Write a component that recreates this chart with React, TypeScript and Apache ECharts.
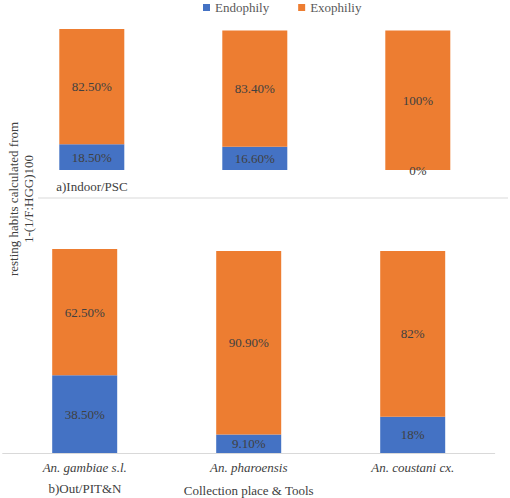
import React, { useEffect, useRef } from "react";
import * as echarts from "echarts";

const categories = ["An. gambiae s.l.", "An. pharoensis", "An. coustani cx."];
const seriesNames = ["Endophily", "Exophiliy"];
const indoorEndo = [18.5, 16.6, 0];
const indoorExo = [82.5, 83.4, 100];
const indoorEndoLabels = ["18.50%", "16.60%", "0%"];
const indoorExoLabels = ["82.50%", "83.40%", "100%"];
const outEndo = [38.5, 9.1, 18];
const outExo = [62.5, 90.9, 82];
const outEndoLabels = ["38.50%", "9.10%", "18%"];
const outExoLabels = ["62.50%", "90.90%", "82%"];

const FONT = "Times New Roman, Liberation Serif, serif";
const BLUE = "#4472C4";
const ORANGE = "#ED7D31";
const TXT = "#404040";

export default function App() {
  const ref = useRef<HTMLDivElement>(null);
  useEffect(() => {
    if (!ref.current) return;
    const chart = echarts.init(ref.current, null, { renderer: "svg" });
    const mk = (
      name: string,
      data: number[],
      labels: string[],
      idx: number,
      color: string,
      stack: string
    ) => ({
      type: "bar",
      name,
      data,
      stack,
      xAxisIndex: idx,
      yAxisIndex: idx,
      barWidth: 65,
      itemStyle: { color },
      label: {
        show: true,
        position: "inside",
        color: TXT,
        fontSize: 13,
        fontFamily: FONT,
        formatter: (p: any) => labels[p.dataIndex],
      },
    });
    const txt = (text: string, x: number, y: number, size = 13) => ({
      type: "text",
      x,
      y,
      style: {
        text,
        fill: TXT,
        fontSize: size,
        fontFamily: FONT,
        textAlign: "center",
        textVerticalAlign: "middle",
      },
    });
    chart.setOption({
      animation: false,
      textStyle: { fontFamily: FONT },
      legend: {
        data: seriesNames,
        left: 203,
        top: 1,
        padding: 0,
        itemWidth: 7,
        itemHeight: 7,
        itemGap: 29,
        icon: "rect",
        textStyle: { color: "#595959", fontSize: 13, fontFamily: FONT },
      },
      grid: [
        { left: 10.3, width: 489, top: 29, height: 141 },
        { left: 2.7, width: 492, top: 249, height: 208 },
      ],
      xAxis: [
        {
          type: "category",
          gridIndex: 0,
          data: categories,
          axisLine: { show: false },
          axisTick: { show: false },
          axisLabel: { show: false },
        },
        {
          type: "category",
          gridIndex: 1,
          data: categories,
          axisLine: { show: true, lineStyle: { color: "#d9d9d9" } },
          axisTick: { show: false },
          axisLabel: {
            color: TXT,
            fontSize: 13,
            fontStyle: "italic",
            fontFamily: FONT,
            margin: 8,
          },
          name: "Collection place & Tools",
          nameLocation: "middle",
          nameGap: 31,
          nameTextStyle: { color: TXT, fontSize: 13, fontFamily: FONT },
        },
      ],
      yAxis: [
        { type: "value", gridIndex: 0, min: 0, max: 101, show: false },
        { type: "value", gridIndex: 1, min: 0, max: 101, show: false },
      ],
      series: [
        mk(seriesNames[0], indoorEndo, indoorEndoLabels, 0, BLUE, "a"),
        mk(seriesNames[1], indoorExo, indoorExoLabels, 0, ORANGE, "a"),
        mk(seriesNames[0], outEndo, outEndoLabels, 1, BLUE, "b"),
        mk(seriesNames[1], outExo, outExoLabels, 1, ORANGE, "b"),
      ],
      graphic: [
        {
          type: "line",
          shape: { x1: 38, y1: 198, x2: 508, y2: 198 },
          style: { stroke: "#d9d9d9", lineWidth: 1 },
        },
        txt("a)Indoor/PSC", 92, 186),
        txt("b)Out/PIT&N", 85, 488),
        {
          type: "text",
          x: 21,
          y: 199,
          rotation: Math.PI / 2,
          style: {
            text: "resting habits calculated from\n1-(1/F:HGG)100",
            fill: TXT,
            fontSize: 13,
            fontFamily: FONT,
            lineHeight: 15,
            textAlign: "center",
            textVerticalAlign: "middle",
          },
        },
      ],
    });
    return () => chart.dispose();
  }, []);
  return (
    <div
      ref={ref}
      style={{ position: "absolute", left: 0, top: 0, width: 510, height: 498 }}
    />
  );
}
